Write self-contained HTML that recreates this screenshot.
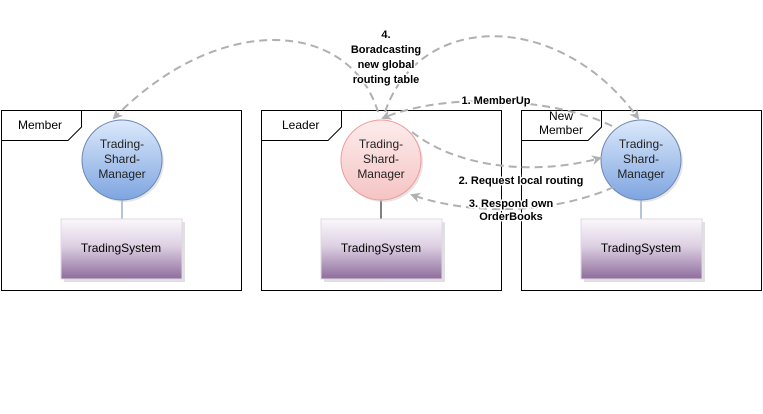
<!DOCTYPE html>
<html><head><style>
body{margin:0;background:#fff;}
svg{display:block;font-family:"Liberation Sans",sans-serif;}
</style></head><body>
<svg width="763" height="414" viewBox="0 0 763 414" xmlns="http://www.w3.org/2000/svg">
<defs>
<radialGradient id="blue" cx="50%" cy="20%" r="80%">
<stop offset="0" stop-color="#dbe8fb"/><stop offset="1" stop-color="#7ba3e0"/></radialGradient>
<linearGradient id="bl" x1="0" y1="0" x2="0" y2="1"><stop offset="0" stop-color="#dce9fb"/><stop offset="1" stop-color="#7ea5e0"/></linearGradient>
<linearGradient id="pk" x1="0" y1="0" x2="0" y2="1"><stop offset="0" stop-color="#fdecec"/><stop offset="1" stop-color="#f5c4c4"/></linearGradient>
<linearGradient id="pu" x1="0" y1="0" x2="0" y2="1"><stop offset="0" stop-color="#fbf8fc"/><stop offset="0.45" stop-color="#ddd0e3"/><stop offset="1" stop-color="#8e6c9c"/></linearGradient>
<marker id="ar" markerWidth="10" markerHeight="10" refX="8" refY="5" orient="auto" markerUnits="userSpaceOnUse">
<path d="M0,0 L10,5 L0,10 L3,5 Z" fill="#b0b0b0"/></marker>
</defs>
<g fill="#fff" stroke="#000" stroke-width="1">
<rect x="1.5" y="110.5" width="240" height="180"/>
<path d="M1.5,140.5 H68 L81.5,127 V110.5" fill="none"/>
<rect x="261.5" y="110.5" width="240" height="180"/>
<path d="M261.5,140.5 H328 L341.5,127 V110.5" fill="none"/>
<rect x="521.5" y="110.5" width="240" height="180"/>
<path d="M521.5,140.5 H588 L601.5,127 V110.5" fill="none"/>
</g>
<g font-size="12" fill="#000">
<text x="18" y="129">Member</text>
<text x="282" y="129">Leader</text>
<text x="561" y="120" text-anchor="middle">New</text>
<text x="561" y="134" text-anchor="middle">Member</text>
</g>
<!-- stems -->
<line x1="122" y1="200" x2="122" y2="219" stroke="#6d88b4"/>
<line x1="381" y1="200" x2="381" y2="219" stroke="#000"/>
<line x1="641" y1="200" x2="641" y2="219" stroke="#6d88b4"/>
<!-- rects -->
<g>
<rect x="64" y="222" width="121" height="60" fill="#ccc" opacity="0.6"/>
<rect x="61" y="219" width="121" height="60" fill="url(#pu)" stroke="#e0d8e6"/>
<rect x="324" y="222" width="121" height="60" fill="#ccc" opacity="0.6"/>
<rect x="321" y="219" width="121" height="60" fill="url(#pu)" stroke="#e0d8e6"/>
<rect x="584" y="222" width="121" height="60" fill="#ccc" opacity="0.6"/>
<rect x="581" y="219" width="121" height="60" fill="url(#pu)" stroke="#e0d8e6"/>
</g>
<g font-size="12" text-anchor="middle">
<text x="121" y="252">TradingSystem</text>
<text x="381" y="252">TradingSystem</text>
<text x="641" y="252">TradingSystem</text>
</g>
<!-- circles -->
<circle cx="124" cy="162" r="40" fill="#ccc" opacity="0.5"/>
<circle cx="122" cy="160" r="40" fill="url(#bl)" stroke="#6d88b4"/>
<circle cx="383" cy="162" r="40" fill="#ccc" opacity="0.5"/>
<circle cx="381" cy="160" r="40" fill="url(#pk)" stroke="#f09a9a"/>
<circle cx="643" cy="162" r="40" fill="#ccc" opacity="0.5"/>
<circle cx="641" cy="160" r="40" fill="url(#bl)" stroke="#6d88b4"/>
<g font-size="12" text-anchor="middle" fill="#222">
<text x="122" y="148">Trading-</text><text x="122" y="163">Shard-</text><text x="122" y="178">Manager</text>
<text x="381" y="148">Trading-</text><text x="381" y="163">Shard-</text><text x="381" y="178">Manager</text>
<text x="641" y="148">Trading-</text><text x="641" y="163">Shard-</text><text x="641" y="178">Manager</text>
</g>
<!-- connectors -->
<g fill="none" stroke="#b0b0b0" stroke-width="2" stroke-dasharray="8,5">
<path d="M378,112 C350,20 220,10 114,118" marker-end="url(#ar)"/>
<path d="M385,112 C420,10 560,10 638,118" marker-end="url(#ar)"/>
<path d="M612,126 C560,100 450,90 383,118" marker-end="url(#ar)"/>
<path d="M412,132 C460,170 540,175 600,158" marker-end="url(#ar)"/>
<path d="M614,187 C550,215 470,215 412,195" marker-end="url(#ar)"/>
</g>
<g font-size="11" font-weight="bold" text-anchor="middle" fill="#000">
<g stroke="#fff" stroke-width="3" paint-order="stroke">
<text x="386" y="38">4.</text>
<text x="386" y="53">Boradcasting</text>
<text x="386" y="68">new global</text>
<text x="386" y="83">routing table</text>
<text x="496" y="104">1. MemberUp</text>
<text x="521" y="184">2. Request local routing</text>
<text x="511" y="207">3. Respond own</text>
<text x="511" y="220">OrderBooks</text>
</g></g>
</svg>
</body></html>
